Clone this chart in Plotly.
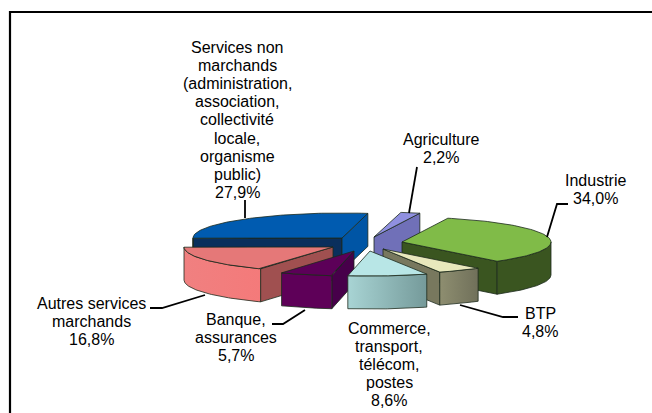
import numpy as np
import plotly.graph_objects as go

# Data
categories = ["Agriculture", "Industrie", "BTP", "Commerce, transport, télécom, postes",
              "Banque, assurances", "Autres services marchands",
              "Services non marchands (administration, association, collectivité locale, organisme public)"]
shares = [2.2, 34.0, 4.8, 8.6, 5.7, 16.8, 27.9]
share_labels = ["2,2%", "34,0%", "4,8%", "8,6%", "5,7%", "16,8%", "27,9%"]
label_lines = [
    ["Agriculture"], ["Industrie"], ["BTP"],
    ["Commerce,", "transport,", "télécom,", "postes"],
    ["Banque,", "assurances"], ["Autres services", "marchands"],
    ["Services non", "marchands", "(administration,", "association,", "collectivité",
     "locale,", "organisme", "public)"],
]

# Pie geometry / projection (pixels)
START = 10.0
RX, RY, DEPTH = 149.0, 25.0, 33.0
tips = [(374, 237), (402, 242), (383, 249), (370, 251), (354, 251), (333, 247), (342, 238)]
top_col = ["#9090E0", "#80BB48", "#E8E8BC", "#B8E6E6", "#5C0058", "#E57878", "#005BB0"]
wall_col = [("#7070B8", "#7070B8"), ("#3A5520", "#3A5520"), ("#8E8E70", "#70705A"),
            ("#A8D4D4", "#759A9A"), ("#5E0058", "#5E0058"), ("#F08080", "#F47A7A"),
            ("#0055A5", "#0055A5")]
start_cut = ["#7070B8", "#3A5520", "#78785E", "#A8D4D4", "#47004A", "#A05050", "#0A2F5C"]
end_cut = ["#7070B8", "#3A5520", "#78785E", "#759A9A", "#47004A", "#A05050", "#0055A5"]
paint_order = [6, 0, 1, 5, 2, 4, 3]
OUT = "#1c2a1c"

label_x = [441, 595, 540, 389, 236, 91, 237]
label_y = [139, 180, 313, 328, 319, 303, 47]
PITCH = 18.2
leaders = [
    [(417, 167), (409, 213)],
    [(568, 204), (557, 204), (547, 237)],
    [(518, 317), (503, 317), (460, 305)],
    [(272, 324), (283, 324), (305, 310)],
    [(150, 308), (162, 308), (205, 295)],
    [(245, 200), (245, 218)],
]

cum = np.cumsum([0] + shares) / 100 * 360 + START
fig = go.Figure()


def pt(tip, a):
    r = np.radians(a)
    return tip[0] + RX * np.sin(r), tip[1] - RY * np.cos(r)


def poly(xs, ys, color=None, grad=None):
    kw = dict(fillcolor=color) if grad is None else dict(
        fillgradient=dict(type="horizontal", colorscale=[[0, grad[0]], [1, grad[1]]]))
    fig.add_trace(go.Scatter(x=list(xs), y=list(ys), mode="lines", fill="toself",
                             line=dict(color=OUT, width=0.8), hoverinfo="skip",
                             showlegend=False, **kw))


def cut(tip, a, color):
    x, y = pt(tip, a)
    poly([tip[0], x, x, tip[0], tip[0]], [tip[1], y, y + DEPTH, tip[1] + DEPTH, tip[1]], color)


for i in paint_order:
    a0, a1 = cum[i], cum[i + 1]
    tip = tips[i]
    if np.sin(np.radians(a0)) < 0:
        cut(tip, a0, start_cut[i])
    if np.sin(np.radians(a1)) > 0:
        cut(tip, a1, end_cut[i])
    w0, w1 = max(a0, 90), min(a1, 270)
    if w1 > w0:
        t = np.linspace(w0, w1, 60)
        xs, ys = pt(tip, t)
        poly(np.r_[xs, xs[::-1], xs[0]], np.r_[ys, ys[::-1] + DEPTH, ys[0]],
             grad=wall_col[i] if wall_col[i][0] != wall_col[i][1] else None,
             color=wall_col[i][0])
    t = np.linspace(a0, a1, 80)
    xs, ys = pt(tip, t)
    poly(np.r_[tip[0], xs, tip[0]], np.r_[tip[1], ys, tip[1]], top_col[i])

shapes = []
for pts in leaders:
    path = "M" + " L".join(f"{x},{y}" for x, y in pts)
    shapes.append(dict(type="path", path=path, xref="x", yref="y",
                       line=dict(color="black", width=1.8)))
shapes.append(dict(type="path", path="M10,413 L10,12 L652,12", xref="x", yref="y",
                   line=dict(color="black", width=2.2)))

ann = []
for lines, pct, x, y in zip(label_lines, share_labels, label_x, label_y):
    for k, txt in enumerate(lines + [pct]):
        ann.append(dict(x=x, y=y + k * PITCH, text=txt, showarrow=False, xref="x", yref="y",
                        xanchor="center", yanchor="middle"))

fig.update_layout(
    width=652, height=413, margin=dict(l=0, r=0, t=0, b=0),
    paper_bgcolor="white", plot_bgcolor="white", showlegend=False,
    font=dict(family="Liberation Sans, Arial, sans-serif", size=16, color="black"),
    xaxis=dict(range=[0, 652], visible=False, fixedrange=True),
    yaxis=dict(range=[413, 0], visible=False, fixedrange=True),
    shapes=shapes, annotations=ann,
)
fig.write_html("out.html", config={"displayModeBar": False},
               post_script="document.body.style.margin='0';document.body.style.overflow='hidden';")
